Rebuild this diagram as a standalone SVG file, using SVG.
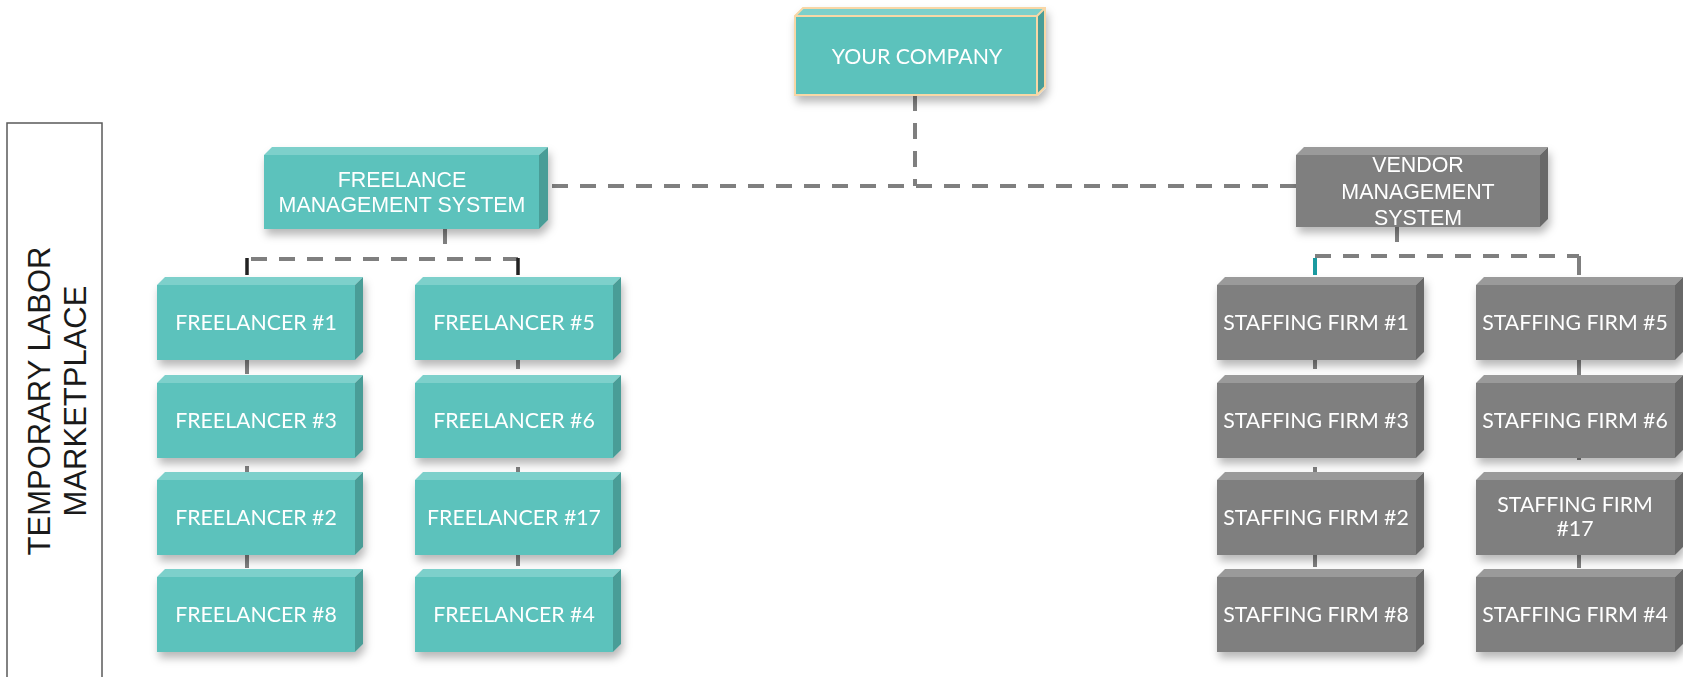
<svg xmlns="http://www.w3.org/2000/svg" width="1683" height="677" viewBox="0 0 1683 677">
<style>
.tf{fill:#5bc2bc}.tt{fill:#7dd0cb}.ts{fill:#4a9d97}
.gf{fill:#7f7f7f}.gt{fill:#9a9a9a}.gs{fill:#676767}
.lbl{font-family:Lato,"Liberation Sans",sans-serif;font-size:21.3px;fill:#ffffff;text-anchor:middle}
.lbl2{font-family:"Liberation Sans",Arial,sans-serif;font-size:21.4px;fill:#ffffff;text-anchor:middle}
.c{stroke:#7f7f7f;stroke-width:4;fill:none}
.d{stroke-dasharray:16 12}
</style>
<defs>
<filter id="sh" x="-20%" y="-20%" width="150%" height="160%">
<feDropShadow dx="2" dy="6" stdDeviation="4" flood-color="#000" flood-opacity="0.28"/>
</filter>
</defs>

<g id="side-label">
<rect x="7" y="123" width="95" height="580" fill="none" stroke="#5a5a5a" stroke-width="1.5"/>
<g transform="translate(0,401) rotate(-90)" font-family="'Liberation Sans',Arial,sans-serif" font-size="31" fill="#1a1a1a" text-anchor="middle">
<text x="0" y="50">TEMPORARY LABOR</text>
<text x="0" y="86">MARKETPLACE</text>
</g>
</g>

<g id="connectors">
<path class="c d" d="M915 95 V186"/>
<path class="c d" d="M552 186 H1296"/>
<path class="c" d="M445 229 V244"/>
<path class="c d" d="M251 259 H518"/>
<path d="M247 258 V275 M518 258 V275" stroke="#222" stroke-width="3.5" fill="none"/>
<path class="c" d="M1397 227 V242"/>
<path class="c d" d="M1315 256 H1579"/>
<path d="M1315 258 V275" stroke="#1a9aa0" stroke-width="4" fill="none"/>
<path class="c" d="M1579 256 V275"/>
<path class="c" d="M247 360 V374 M247 466 V473 M247 555 V568"/>
<path class="c" d="M518 360 V369 M518 467 V472 M518 555 V566"/>
<path class="c" d="M1315 360 V369 M1315 467 V472 M1315 555 V567"/>
<path class="c" d="M1579 360 V375 M1579 457 V460 M1579 555 V568"/>
</g>

<g id="your-company" filter="url(#sh)">
<polygon class="tt" points="795,16 803,8 1045,8 1037,16"/>
<polygon class="ts" points="1037,16 1045,8 1045,87 1037,95"/>
<rect class="tf" x="795" y="16" width="242" height="79"/>
<path d="M795,95 V16 L803,8 H1045 V87 L1037,95 Z M795,16 H1037 L1045,8 M1037,16 V95" fill="none" stroke="#f8d7a6" stroke-width="2"/>
<text class="lbl" x="917" y="64">YOUR COMPANY</text>
</g>

<g id="fms" filter="url(#sh)">
<polygon class="tt" points="264,155 272,147 548,147 539,155"/>
<polygon class="ts" points="539,155 548,147 548,220 539,229"/>
<rect class="tf" x="264" y="155" width="275" height="74"/>
<text class="lbl2" x="402" y="187">FREELANCE</text>
<text class="lbl2" x="402" y="212">MANAGEMENT SYSTEM</text>
</g>

<g id="vms" filter="url(#sh)">
<polygon class="gt" points="1296,155 1304,147 1548,147 1540,155"/>
<polygon class="gs" points="1540,155 1548,147 1548,219 1540,227"/>
<rect class="gf" x="1296" y="155" width="244" height="72"/>
<text class="lbl2" x="1418" y="172">VENDOR</text>
<text class="lbl2" x="1418" y="199">MANAGEMENT</text>
<text class="lbl2" x="1418" y="225">SYSTEM</text>
</g>

<g id="fl1" filter="url(#sh)"><polygon class="tt" points="157,285 165,277 363,277 355,285"/><polygon class="ts" points="355,285 363,277 363,352 355,360"/><rect class="tf" x="157" y="285" width="198" height="75"/><text class="lbl" x="256" y="330">FREELANCER #1</text></g>
<g id="fl3" filter="url(#sh)"><polygon class="tt" points="157,383 165,375 363,375 355,383"/><polygon class="ts" points="355,383 363,375 363,450 355,458"/><rect class="tf" x="157" y="383" width="198" height="75"/><text class="lbl" x="256" y="428">FREELANCER #3</text></g>
<g id="fl2" filter="url(#sh)"><polygon class="tt" points="157,480 165,472 363,472 355,480"/><polygon class="ts" points="355,480 363,472 363,547 355,555"/><rect class="tf" x="157" y="480" width="198" height="75"/><text class="lbl" x="256" y="525">FREELANCER #2</text></g>
<g id="fl8" filter="url(#sh)"><polygon class="tt" points="157,577 165,569 363,569 355,577"/><polygon class="ts" points="355,577 363,569 363,644 355,652"/><rect class="tf" x="157" y="577" width="198" height="75"/><text class="lbl" x="256" y="622">FREELANCER #8</text></g>

<g id="fl5" filter="url(#sh)"><polygon class="tt" points="415,285 423,277 621,277 613,285"/><polygon class="ts" points="613,285 621,277 621,352 613,360"/><rect class="tf" x="415" y="285" width="198" height="75"/><text class="lbl" x="514" y="330">FREELANCER #5</text></g>
<g id="fl6" filter="url(#sh)"><polygon class="tt" points="415,383 423,375 621,375 613,383"/><polygon class="ts" points="613,383 621,375 621,450 613,458"/><rect class="tf" x="415" y="383" width="198" height="75"/><text class="lbl" x="514" y="428">FREELANCER #6</text></g>
<g id="fl17" filter="url(#sh)"><polygon class="tt" points="415,480 423,472 621,472 613,480"/><polygon class="ts" points="613,480 621,472 621,547 613,555"/><rect class="tf" x="415" y="480" width="198" height="75"/><text class="lbl" x="514" y="525">FREELANCER #17</text></g>
<g id="fl4" filter="url(#sh)"><polygon class="tt" points="415,577 423,569 621,569 613,577"/><polygon class="ts" points="613,577 621,569 621,644 613,652"/><rect class="tf" x="415" y="577" width="198" height="75"/><text class="lbl" x="514" y="622">FREELANCER #4</text></g>

<g id="sf1" filter="url(#sh)"><polygon class="gt" points="1217,285 1225,277 1424,277 1416,285"/><polygon class="gs" points="1416,285 1424,277 1424,352 1416,360"/><rect class="gf" x="1217" y="285" width="199" height="75"/><text class="lbl" x="1316" y="330">STAFFING FIRM #1</text></g>
<g id="sf3" filter="url(#sh)"><polygon class="gt" points="1217,383 1225,375 1424,375 1416,383"/><polygon class="gs" points="1416,383 1424,375 1424,450 1416,458"/><rect class="gf" x="1217" y="383" width="199" height="75"/><text class="lbl" x="1316" y="428">STAFFING FIRM #3</text></g>
<g id="sf2" filter="url(#sh)"><polygon class="gt" points="1217,480 1225,472 1424,472 1416,480"/><polygon class="gs" points="1416,480 1424,472 1424,547 1416,555"/><rect class="gf" x="1217" y="480" width="199" height="75"/><text class="lbl" x="1316" y="525">STAFFING FIRM #2</text></g>
<g id="sf8" filter="url(#sh)"><polygon class="gt" points="1217,577 1225,569 1424,569 1416,577"/><polygon class="gs" points="1416,577 1424,569 1424,644 1416,652"/><rect class="gf" x="1217" y="577" width="199" height="75"/><text class="lbl" x="1316" y="622">STAFFING FIRM #8</text></g>

<g id="sf5" filter="url(#sh)"><polygon class="gt" points="1476,285 1484,277 1683,277 1675,285"/><polygon class="gs" points="1675,285 1683,277 1683,352 1675,360"/><rect class="gf" x="1476" y="285" width="199" height="75"/><text class="lbl" x="1575" y="330">STAFFING FIRM #5</text></g>
<g id="sf6" filter="url(#sh)"><polygon class="gt" points="1476,383 1484,375 1683,375 1675,383"/><polygon class="gs" points="1675,383 1683,375 1683,450 1675,458"/><rect class="gf" x="1476" y="383" width="199" height="75"/><text class="lbl" x="1575" y="428">STAFFING FIRM #6</text></g>
<g id="sf17" filter="url(#sh)"><polygon class="gt" points="1476,480 1484,472 1683,472 1675,480"/><polygon class="gs" points="1675,480 1683,472 1683,547 1675,555"/><rect class="gf" x="1476" y="480" width="199" height="75"/><text class="lbl" x="1575" y="512">STAFFING FIRM</text><text class="lbl" x="1575" y="536">#17</text></g>
<g id="sf4" filter="url(#sh)"><polygon class="gt" points="1476,577 1484,569 1683,569 1675,577"/><polygon class="gs" points="1675,577 1683,569 1683,644 1675,652"/><rect class="gf" x="1476" y="577" width="199" height="75"/><text class="lbl" x="1575" y="622">STAFFING FIRM #4</text></g>
</svg>
